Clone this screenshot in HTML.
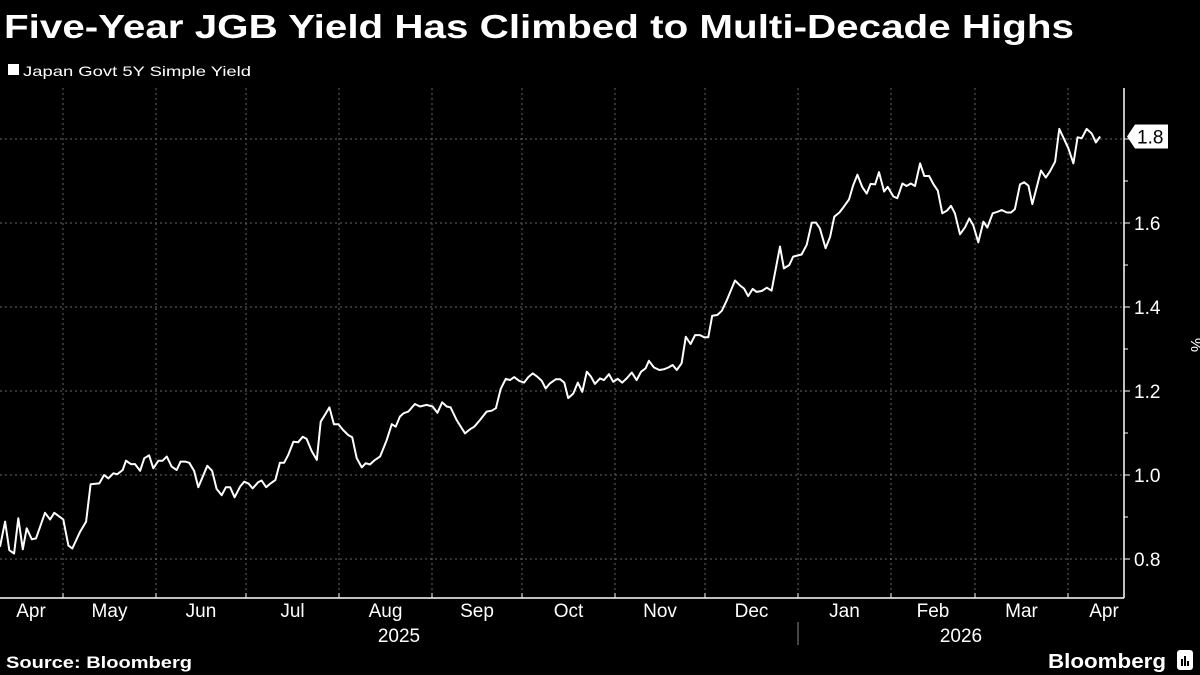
<!DOCTYPE html>
<html><head><meta charset="utf-8"><style>
html,body{margin:0;padding:0;background:#000;width:1200px;height:675px;overflow:hidden}
svg{display:block;font-family:"Liberation Sans",sans-serif}
</style></head><body>
<svg id="chart" width="1200" height="675" viewBox="0 0 1200 675">
<rect width="1200" height="675" fill="#000"/>
<text x="4" y="38" fill="#fff" font-size="33" font-weight="bold" textLength="1070" lengthAdjust="spacingAndGlyphs">Five-Year JGB Yield Has Climbed to Multi-Decade Highs</text>
<g>
<rect x="8" y="64" width="11" height="11" fill="#fff"/>
<text x="23" y="76" fill="#fff" font-size="14" textLength="228" lengthAdjust="spacingAndGlyphs">Japan Govt 5Y Simple Yield</text>
</g>
<g id="grid"></g>
<g id="axes"></g>
<g id="series"></g>
<text x="6" y="668" fill="#fff" font-size="17" font-weight="bold" textLength="186" lengthAdjust="spacingAndGlyphs">Source: Bloomberg</text>
<g>
<text x="1166" y="668" fill="#fff" font-size="20" font-weight="bold" text-anchor="end" textLength="118" lengthAdjust="spacingAndGlyphs">Bloomberg</text>
<rect x="1177" y="650" width="16" height="20" rx="3" fill="#fff"/>
<rect x="1181" y="659" width="2" height="7" fill="#000"/><rect x="1184" y="656" width="2" height="10" fill="#000"/><rect x="1187" y="661" width="2" height="5" fill="#000"/>
</g>
</svg>
<script>
const days = [9,10.7,12.1,13.7,15.1,16.6,17.9,19.6,21,24,25.7,27.1,30.1,31.8,33.1,35.7,37.7,39.2,42.1,43.7,45.1,46.8,48.1,49.9,51,52.6,54,55.7,57.1,58.7,60.1,61.8,63.2,64.6,66.2,67.9,69.2,70.7,72.1,73.7,75.1,78.1,79.7,81.2,82.9,84.3,85.7,87.2,89,90.4,91.8,93.2,95.1,96.2,97.7,99.2,100.8,102.3,103.7,105.1,106.8,108.4,109.9,111.2,112.9,114.6,115.9,117.3,118.8,120.3,121.8,123.4,125.1,126.4,127.9,129.6,130.9,132.3,134,135.7,137.9,139.6,140.9,142.3,
143.5,145.1,147.3,149,151.2,153.2,154.8,156.4,157.9,159.2,161.2,164,165.7,167.1,169,171.2,172.9,174.3,175.9,177.6,179,180.4,182.1,183.7,185.1,186.6,188.1,189.6,190.9,192.3,194.3,195.7,197.1,198.4,200.1,201.6,203.1,204.6,206,207.3,209,210.3,212,213.4,214.9,216.4,217.9,219.6,221.2,222.7,224.2,225.3,227,228.8,230.4,231.8,233.2,234.6,236.2,237.6,239.2,240.7,242.3,243.7,245.1,246.4,248.1,249.6,251.2,254,255.7,257,258.4,259.9,261.2,262.9,264.6,266.2,269,
270.3,272.1,273.4,276.2,277.9,279.6,281,282.3,284.2,285.7,287.1,288.8,290.3,292,293.4,294.8,296.4,297.9,299.2,300.7,302,303.7,304.9,306.8,308.1,309.8,311.2,312.6,314,315.7,317.1,318.7,320.1,321.6,323.1,324.6,326,327.3,329,330.7,332.1,333.4,335.1,336.8,338.1,339.9,341.6,342.9,344.6,346,347.3,349,350.4,351.8,353.1,354.6,356,357.6,359,360.7,362.1,363.8,365.1,366.8,368.2,369.6,371.2,372.9,374.3,375.7];
const yields = [0.829,0.889,0.821,0.813,0.897,0.823,0.873,0.847,0.849,0.910,0.894,0.910,0.894,0.832,0.825,0.865,0.889,0.978,0.980,1.000,0.992,1.004,1.002,1.012,1.034,1.026,1.026,1.010,1.040,1.047,1.016,1.034,1.034,1.044,1.020,1.012,1.032,1.032,1.029,1.010,0.971,1.022,1.010,0.967,0.952,0.971,0.971,0.947,0.972,0.984,0.980,0.968,0.983,0.987,0.971,0.980,0.988,1.029,1.029,1.048,1.079,1.078,1.091,1.086,1.057,1.036,1.127,1.143,1.161,1.121,1.121,1.107,1.095,1.090,1.040,1.018,1.028,1.025,1.036,1.044,1.083,1.121,1.115,1.139,
1.147,1.151,1.169,1.163,1.167,1.163,1.148,1.173,1.163,1.161,1.131,1.099,1.109,1.115,1.131,1.151,1.153,1.159,1.205,1.229,1.226,1.233,1.224,1.220,1.233,1.242,1.234,1.224,1.206,1.218,1.228,1.228,1.220,1.183,1.194,1.220,1.198,1.246,1.234,1.217,1.230,1.226,1.240,1.222,1.229,1.220,1.230,1.244,1.226,1.246,1.254,1.272,1.256,1.250,1.252,1.256,1.262,1.250,1.266,1.329,1.312,1.333,1.333,1.328,1.328,1.379,1.381,1.391,1.415,1.463,1.451,1.444,1.426,1.443,1.436,1.438,1.446,1.439,1.544,
1.492,1.500,1.520,1.525,1.548,1.601,1.601,1.587,1.540,1.567,1.615,1.625,1.639,1.656,1.690,1.715,1.686,1.670,1.693,1.692,1.721,1.675,1.686,1.663,1.659,1.694,1.688,1.694,1.688,1.742,1.712,1.712,1.693,1.677,1.623,1.629,1.641,1.623,1.573,1.590,1.611,1.595,1.554,1.603,1.589,1.623,1.627,1.631,1.625,1.625,1.633,1.692,1.697,1.689,1.645,1.686,1.725,1.708,1.723,1.746,1.824,1.798,1.778,1.742,1.804,1.802,1.824,1.813,1.792,1.806];
const monthStarts = [30,61,91,122,153,183,214,244,275,306,334,365];
const monthLabels = ["Apr","May","Jun","Jul","Aug","Sep","Oct","Nov","Dec","Jan","Feb","Mar","Apr"];
const yTicks = [0.8,1.0,1.2,1.4,1.6,1.8];
const yTickLabels = ["0.8","1.0","1.2","1.4","1.6","1.8"];
const yMinorTicks = [0.9,1.1,1.3,1.5,1.7];
const years = ["2025","2026"];
const lastValueLabel = "1.8";

const NS = "http://www.w3.org/2000/svg";
const X0 = 0, X1 = 1124, YTOP = 88, YBOT = 598;
function xScale(d){ return 63 + (d - 30) * 3.0; }
function yScale(v){ return 559 - (v - 0.8) * 420; }
function mk(tag, attrs, parent){ const e = document.createElementNS(NS, tag); for (const k in attrs) e.setAttribute(k, attrs[k]); parent.appendChild(e); return e; }
const grid = document.getElementById('grid'), axes = document.getElementById('axes'), series = document.getElementById('series');

yTicks.forEach((v, i) => {
  const g = mk('line', {x1: X0, x2: X1, y1: yScale(v), y2: yScale(v), stroke: '#666', 'stroke-width': 1, 'stroke-dasharray': '2,3'}, grid);
  
  
  const t = mk('line', {x1: X1, x2: X1 + 6, y1: yScale(v), y2: yScale(v), stroke: '#fff', 'stroke-width': 1}, axes);
  
  
  if (yTickLabels[i] !== lastValueLabel) {
    const l = mk('text', {x: X1 + 10, y: yScale(v) + 7, fill: '#fff', 'font-size': 19}, axes);
    l.textContent = yTickLabels[i];
    
    
  }
});
yMinorTicks.forEach(v => {
  const t = mk('line', {x1: X1, x2: X1 + 4, y1: yScale(v), y2: yScale(v), stroke: '#fff', 'stroke-width': 1}, axes);
  
  
});
monthStarts.forEach(d => {
  const g = mk('line', {x1: xScale(d), x2: xScale(d), y1: YTOP, y2: YBOT, stroke: '#666', 'stroke-width': 1, 'stroke-dasharray': '2,3'}, grid);
  
  
  const t = mk('line', {x1: xScale(d), x2: xScale(d), y1: YBOT, y2: YBOT - 5, stroke: '#fff', 'stroke-width': 1}, axes);
  
  
});
const bounds = [0].concat(monthStarts.map(xScale)).concat([X1]);
monthLabels.forEach((m, i) => {
  let cx = (bounds[i] + bounds[i + 1]) / 2;
  if (i === 0) cx = 31;
  if (i === monthLabels.length - 1) cx = 1104;
  const l = mk('text', {x: cx, y: 617, fill: '#fff', 'font-size': 19, 'text-anchor': 'middle'}, axes);
  l.textContent = m;
  
  
});
const yearX = [(0 + xScale(275)) / 2, (xScale(275) + X1) / 2];
years.forEach((y, i) => {
  const l = mk('text', {x: yearX[i], y: 642, fill: '#fff', 'font-size': 19, 'text-anchor': 'middle'}, axes);
  l.textContent = y;
  
  
});
const sep = mk('line', {x1: xScale(275), x2: xScale(275), y1: 622, y2: 645, stroke: '#888', 'stroke-width': 1}, axes);


const ya = mk('line', {x1: X1, x2: X1, y1: YTOP, y2: YBOT, stroke: '#fff', 'stroke-width': 1.5}, axes);


const xa = mk('line', {x1: X0, x2: X1, y1: YBOT, y2: YBOT, stroke: '#fff', 'stroke-width': 1.5}, axes);


const unit = mk('text', {x: 1191, y: 345, fill: '#fff', 'font-size': 16, 'text-anchor': 'middle', transform: 'rotate(90 1191 345)'}, axes);
unit.textContent = '%';



const pts = days.map((d, i) => xScale(d).toFixed(1) + ',' + yScale(yields[i]).toFixed(1)).join(' ');
const line = mk('polyline', {points: pts, fill: 'none', stroke: '#fff', 'stroke-width': 2, 'stroke-linejoin': 'round'}, series);



const lv = yScale(yields[yields.length - 1]);
const tag = mk('g', {}, axes);


mk('path', {d: `M${X1+3},${lv} L${X1+11},${lv-12} L${X1+44},${lv-12} L${X1+44},${lv+12} L${X1+11},${lv+12} Z`, fill: '#fff'}, tag);
const tv = mk('text', {x: X1 + 13, y: lv + 7, fill: '#000', 'font-size': 19}, tag);
tv.textContent = lastValueLabel;
</script>
</body></html>
